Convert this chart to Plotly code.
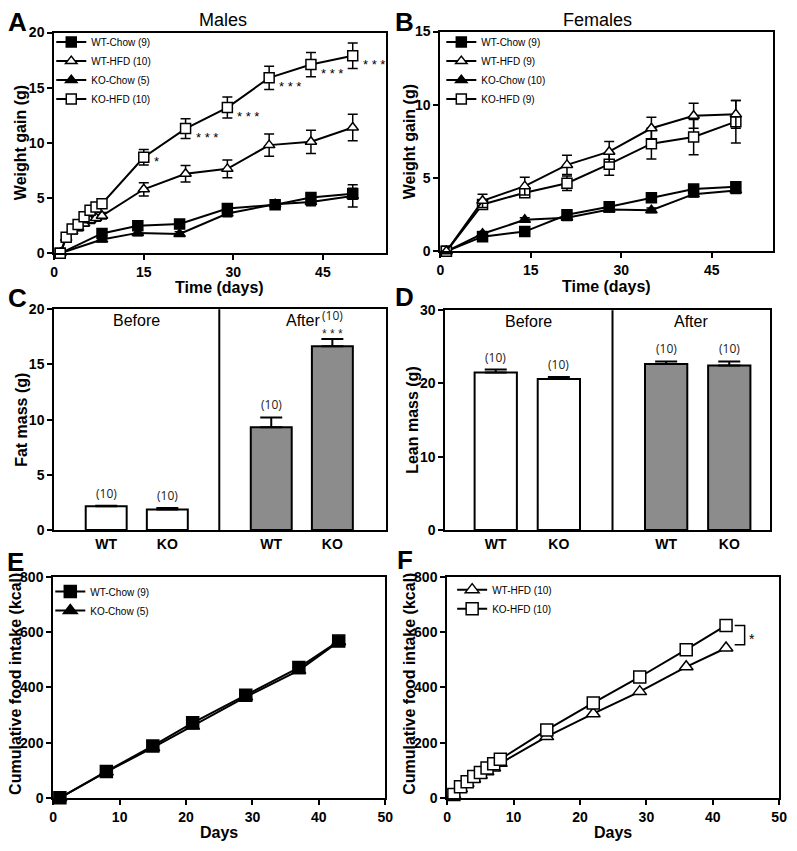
import plotly.graph_objects as go

# ---------------- DATA ----------------
# Panel A (Males weight gain)
days_m_chow = [1, 8, 14, 21, 29, 37, 43, 50]
m_wt_chow = [0, 1.8, 2.5, 2.65, 4.05, 4.4, 5.05, 5.4]
m_wt_chow_err = [0, 0.25, 0.25, 0.3, 0.3, 0.3, 0.35, 0.5]
m_ko_chow = [0, 1.25, 1.85, 1.75, 3.6, 4.45, 4.65, 5.2]
m_ko_chow_err = [0, 0.2, 0.25, 0.2, 0.3, 0.3, 0.35, 1.0]
days_m_hfd = [1, 2, 3, 4, 5, 6, 7, 8, 15, 22, 29, 36, 43, 50]
m_wt_hfd = [0, 1.4, 2.0, 2.3, 2.7, 3.0, 3.2, 3.4, 5.8, 7.2, 7.65, 9.8, 10.1, 11.4]
m_wt_hfd_err = [0, 0.2, 0.2, 0.25, 0.25, 0.3, 0.3, 0.3, 0.6, 0.75, 0.8, 1.0, 1.05, 1.2]
m_ko_hfd = [0, 1.45, 2.2, 2.6, 3.3, 3.9, 4.2, 4.5, 8.7, 11.3, 13.2, 15.9, 17.1, 17.9]
m_ko_hfd_err = [0, 0.2, 0.25, 0.25, 0.3, 0.3, 0.3, 0.35, 0.7, 0.9, 0.95, 1.05, 1.1, 1.15]
m_ko_hfd_sig = ["", "", "", "", "", "", "", "", "*", "* * *", "* * *", "* * *", "* * *", "* * *"]

# Panel B (Females weight gain)
days_f = [1, 7, 14, 21, 28, 35, 42, 49]
f_wt_chow = [0, 1.0, 1.35, 2.5, 3.05, 3.65, 4.25, 4.4]
f_wt_chow_err = [0, 0.15, 0.2, 0.25, 0.2, 0.25, 0.25, 0.3]
f_wt_hfd = [0, 3.45, 4.45, 5.9, 6.8, 8.4, 9.25, 9.35]
f_wt_hfd_err = [0, 0.45, 0.6, 0.65, 0.7, 0.75, 0.85, 0.95]
f_ko_chow = [0, 1.2, 2.15, 2.3, 2.85, 2.8, 3.9, 4.15]
f_ko_chow_err = [0, 0.15, 0.15, 0.2, 0.15, 0.15, 0.2, 0.2]
f_ko_hfd = [0, 3.2, 4.0, 4.65, 5.95, 7.35, 7.8, 8.85]
f_ko_hfd_err = [0, 0.3, 0.25, 0.5, 0.75, 1.05, 1.2, 1.45]

# Panels C/D (body composition)
bar_genotypes = ["WT", "KO", "WT", "KO"]
bar_phase = ["Before", "Before", "After", "After"]
bar_n = ["(10)", "(10)", "(10)", "(10)"]
fat_mass = [2.15, 1.85, 9.3, 16.65]
fat_mass_err = [0.05, 0.15, 0.9, 0.65]
fat_sig = ["", "", "", "* * *"]
lean_mass = [21.5, 20.6, 22.65, 22.45]
lean_mass_err = [0.4, 0.3, 0.35, 0.55]

# Panel E (Chow food intake)
days_e = [1, 8, 15, 21, 29, 37, 43]
e_wt_chow = [0, 96, 188, 272, 372, 472, 568]
e_ko_chow = [0, 94, 182, 260, 366, 462, 566]

# Panel F (HFD food intake)
days_fi = [1, 2, 3, 4, 5, 6, 7, 8, 15, 22, 29, 36, 42]
fi_wt_hfd = [10, 33, 52, 68, 82, 95, 108, 125, 222, 305, 385, 475, 543]
fi_ko_hfd = [12, 40, 58, 77, 92, 108, 124, 140, 246, 344, 438, 537, 625]

# ---------------- STYLE ----------------
W, H = 797, 851
FONT = "Arial, Liberation Sans, sans-serif"
BOLD = dict(family=FONT, size=14, color="black", weight="bold")


def px(x):
    return x / W


def py(y):
    return 1 - y / H


def px_dom(a, b):
    return [px(a), px(b)]


def py_dom(top, bottom):
    return [py(bottom), py(top)]


def ax(**kw):
    d = dict(showline=True, linecolor="black", linewidth=2, mirror=True,
             ticks="outside", ticklen=5, tickwidth=2, tickcolor="black",
             tickfont=BOLD, showgrid=False, zeroline=False, fixedrange=True)
    d.update(kw)
    return d


fig = go.Figure()

MS = 10


def line_trace(x, y, err, name, symbol, fill, xa, ya, legend, rank=None, ms=MS):
    t = go.Scatter(
        x=x, y=y, mode="lines+markers", name=name,
        line=dict(color="black", width=2),
        marker=dict(symbol=symbol, size=ms, color=fill,
                    line=dict(color="black", width=1.5)),
        xaxis=xa, yaxis=ya, legend=legend,
        cliponaxis=False,
    )
    if err is not None:
        t.error_y = dict(type="data", array=err, visible=True,
                         color="black", thickness=1.5, width=5)
    if rank is not None:
        t.legendrank = rank
    return t


# Panel A
fig.add_trace(line_trace(days_m_chow, m_ko_chow, m_ko_chow_err, "KO-Chow (5)", "triangle-up", "black", "x", "y", "legend", rank=3))
fig.add_trace(line_trace(days_m_chow, m_wt_chow, m_wt_chow_err, "WT-Chow (9)", "square", "black", "x", "y", "legend", rank=1))
fig.add_trace(line_trace(days_m_hfd, m_wt_hfd, m_wt_hfd_err, "WT-HFD (10)", "triangle-up", "white", "x", "y", "legend", rank=2))
fig.add_trace(line_trace(days_m_hfd, m_ko_hfd, m_ko_hfd_err, "KO-HFD (10)", "square", "white", "x", "y", "legend", rank=4))

# Panel B
fig.add_trace(line_trace(days_f, f_ko_chow, f_ko_chow_err, "KO-Chow (10)", "triangle-up", "black", "x2", "y2", "legend2", rank=3))
fig.add_trace(line_trace(days_f, f_wt_chow, f_wt_chow_err, "WT-Chow (9)", "square", "black", "x2", "y2", "legend2", rank=1))
fig.add_trace(line_trace(days_f, f_ko_hfd, f_ko_hfd_err, "KO-HFD (9)", "square", "white", "x2", "y2", "legend2", rank=4))
fig.add_trace(line_trace(days_f, f_wt_hfd, f_wt_hfd_err, "WT-HFD (9)", "triangle-up", "white", "x2", "y2", "legend2", rank=2))

# Panels C / D bars
GAP = 0.7
bar_pos = [i + (GAP if bar_phase[i] == "After" else 0) + 1 for i in range(4)]
bar_fill = ["white" if p == "Before" else "#8c8c8c" for p in bar_phase]
divider = 2 + GAP / 2 + 0.5

for vals, errs, xa, ya in [(fat_mass, fat_mass_err, "x3", "y3"), (lean_mass, lean_mass_err, "x4", "y4")]:
    fig.add_trace(go.Bar(
        x=bar_pos, y=vals, width=0.67, xaxis=xa, yaxis=ya, showlegend=False,
        marker=dict(color=bar_fill, line=dict(color="black", width=2)),
        error_y=dict(type="data", array=errs, arrayminus=[0] * 4, symmetric=False,
                     color="black", thickness=2, width=11),
    ))

# Panel E
fig.add_trace(line_trace(days_e, e_ko_chow, None, "KO-Chow (5)", "triangle-up", "black", "x5", "y5", "legend3", rank=2, ms=12))
fig.add_trace(line_trace(days_e, e_wt_chow, None, "WT-Chow (9)", "square", "black", "x5", "y5", "legend3", rank=1, ms=12))

# Panel F
fig.add_trace(line_trace(days_fi, fi_wt_hfd, None, "WT-HFD (10)", "triangle-up", "white", "x6", "y6", "legend4", rank=1, ms=12))
fig.add_trace(line_trace(days_fi, fi_ko_hfd, None, "KO-HFD (10)", "square", "white", "x6", "y6", "legend4", rank=2, ms=12))

# ---------------- LAYOUT ----------------
legfont = dict(family=FONT, size=10, color="black")


def leg(xpx, ypx):
    return dict(x=px(xpx), y=py(ypx), xanchor="left", yanchor="top",
                bgcolor="rgba(0,0,0,0)", font=legfont, itemwidth=30,
                tracegroupgap=0, borderwidth=0)


fig.update_layout(
    width=W, height=H, margin=dict(l=0, r=0, t=0, b=0),
    paper_bgcolor="white", plot_bgcolor="white",
    font=dict(family=FONT, color="black"),
    barmode="overlay",
    xaxis=ax(domain=px_dom(51, 388), anchor="y", range=[0, 55.6], tickvals=[0, 15, 30, 45]),
    yaxis=ax(domain=py_dom(25, 250), anchor="x", range=[0, 20], dtick=5),
    xaxis2=ax(domain=px_dom(443, 781), anchor="y2", range=[0, 55.2], tickvals=[0, 15, 30, 45]),
    yaxis2=ax(domain=py_dom(24, 248), anchor="x2", range=[0, 15], dtick=5),
    xaxis3=ax(domain=px_dom(51, 388), anchor="y3", range=[0.15, 5.58], tickvals=bar_pos,
              ticktext=bar_genotypes, ticks=""),
    yaxis3=ax(domain=py_dom(307, 532), anchor="x3", range=[0, 20], dtick=5),
    xaxis4=ax(domain=px_dom(448, 778), anchor="y4", range=[0.2, 5.35], tickvals=bar_pos,
              ticktext=bar_genotypes, ticks=""),
    yaxis4=ax(domain=py_dom(308, 532), anchor="x4", range=[0, 30], dtick=10),
    xaxis5=ax(domain=px_dom(50, 387), anchor="y5", range=[0, 50], dtick=10),
    yaxis5=ax(domain=py_dom(580, 805), anchor="x5", range=[0, 800], dtick=200),
    xaxis6=ax(domain=px_dom(450, 787), anchor="y6", range=[0, 50], dtick=10),
    yaxis6=ax(domain=py_dom(580, 805), anchor="x6", range=[0, 800], dtick=200),
    legend=leg(48, 20),
    legend2=leg(444, 20),
    legend3=leg(47, 580),
    legend4=leg(455, 578),
)

ann = []


def txt(x, y, text, size=14, bold=True, angle=0, xanchor="center", yanchor="middle"):
    ann.append(dict(x=px(x), y=py(y), xref="paper", yref="paper", text=text,
                    showarrow=False, textangle=angle, xanchor=xanchor, yanchor=yanchor,
                    font=dict(family=FONT, size=size, color="black",
                              weight="bold" if bold else "normal")))


# panel letters
for L, x, y in [("A", 14, 14), ("B", 407, 14), ("C", 14, 296), ("D", 407, 295), ("E", 12, 565), ("F", 407, 563)]:
    txt(x, y, L, size=26)
# titles
txt(222, 12, "Males", size=18, bold=False)
txt(603, 12, "Females", size=18, bold=False)
# axis titles
txt(219, 285, "Time (days)", size=16)
txt(612, 284, "Time (days)", size=16)
txt(218, 840, "Days", size=16)
txt(618, 840, "Days", size=16)
txt(17, 137, "Weight gain (g)", size=16, angle=-90)
txt(412, 136, "Weight gain (g)", size=16, angle=-90)
txt(17, 420, "Fat mass (g)", size=16, angle=-90)
txt(414, 420, "Lean mass (g)", size=16, angle=-90)
txt(11, 689, "Cumulative food intake (kcal)", size=16, angle=-90)
txt(411, 689, "Cumulative food intake (kcal)", size=16, angle=-90)

# significance in A
for d, v, s in zip(days_m_hfd, m_ko_hfd, m_ko_hfd_sig):
    if s:
        ann.append(dict(x=d, y=v, xref="x", yref="y", text=s, showarrow=False,
                        xanchor="left", yanchor="middle", xshift=8,
                        yshift=-4 if s == "*" else -9,
                        font=dict(family=FONT, size=13, color="black")))

# bar panel labels
for xa, ya, vals, errs, sigs in [("x3", "y3", fat_mass, fat_mass_err, fat_sig),
                                  ("x4", "y4", lean_mass, lean_mass_err, ["", "", "", ""])]:
    for p, v, e, n, s in zip(bar_pos, vals, errs, bar_n, sigs):
        if s:
            ann.append(dict(x=p, y=v + e, xref=xa, yref=ya, text=s, showarrow=False,
                            xanchor="center", yanchor="bottom", yshift=-4,
                            font=dict(family=FONT, size=12, color="#222")))
            ann.append(dict(x=p, y=v + e, xref=xa, yref=ya, text=n, showarrow=False,
                            xanchor="center", yanchor="bottom", yshift=13,
                            font=dict(family="Open Sans, sans-serif", size=12, color="#222")))
        else:
            ann.append(dict(x=p, y=v + e, xref=xa, yref=ya, text=n, showarrow=False,
                            xanchor="center", yanchor="bottom", yshift=2,
                            font=dict(family="Open Sans, sans-serif", size=12, color="#222")))
    for phase, xc in [("Before", (divider + (0.15 if xa == "x3" else 0.2)) / 2),
                      ("After", (divider + (5.58 if xa == "x3" else 5.35)) / 2)]:
        ann.append(dict(x=xc, y=0.95, xref=xa, yref=ya + " domain", text=phase, showarrow=False,
                        xanchor="center", yanchor="middle",
                        font=dict(family=FONT, size=16, color="black")))

# bracket significance in F
ann.append(dict(x=45.1, y=(fi_ko_hfd[-1] + fi_wt_hfd[-1]) / 2, xref="x6", yref="y6", text="*",
                showarrow=False, xanchor="left", yanchor="middle", yshift=-2,
                font=dict(family=FONT, size=14, color="black")))

fig.update_layout(annotations=ann)

shapes = []
for xa, ya in [("x3", "y3"), ("x4", "y4")]:
    shapes.append(dict(type="line", xref=xa, yref=ya + " domain", x0=divider, x1=divider,
                       y0=0, y1=1, line=dict(color="black", width=2)))
shapes.append(dict(type="path", xref="x6", yref="y6",
                   path=f"M 43.3 {fi_ko_hfd[-1]} L 44.8 {fi_ko_hfd[-1]} L 44.8 {fi_wt_hfd[-1] + 12} L 43.3 {fi_wt_hfd[-1] + 12}",
                   line=dict(color="black", width=1.5)))
fig.update_layout(shapes=shapes)

fig.write_html("out.html", config={"displayModeBar": False},
               post_script="document.body.style.margin='0';document.body.style.padding='0';")
